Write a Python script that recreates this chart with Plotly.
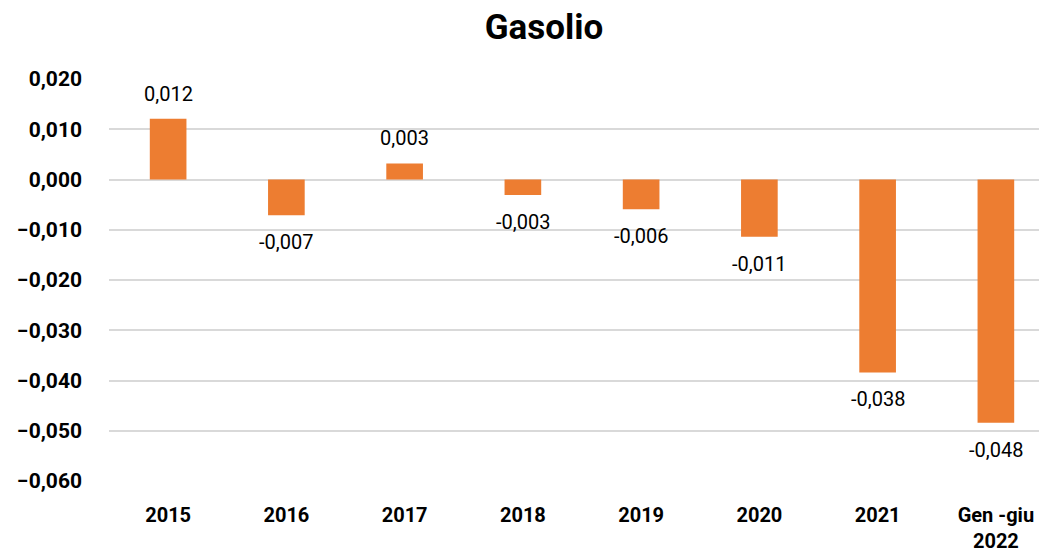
import plotly.graph_objects as go

# Gasolio - variazione annua
categories = ["2015", "2016", "2017", "2018", "2019", "2020", "2021", "Gen -giu<br>2022"]
values = [0.0121, -0.0071, 0.0032, -0.0031, -0.0059, -0.0114, -0.0384, -0.0484]
labels = ["0,012", "-0,007", "0,003", "-0,003", "-0,006", "-0,011", "-0,038", "-0,048"]

FONT = "Roboto"
ORANGE = "#ED7D31"

fig = go.Figure()
fig.add_trace(go.Bar(x=categories, y=values, marker_color=ORANGE,
                     marker_line_width=0, hoverinfo="skip"))

# data labels above positive bars, below negative ones
for i, (v, t) in enumerate(zip(values, labels)):
    fig.add_annotation(x=i, y=v, text=t, showarrow=False,
                       yshift=25 if v > 0 else -27,
                       font=dict(family=FONT, size=20, color="#000000"))

fig.update_layout(
    width=1047, height=551,
    title=dict(text="<b>Gasolio</b>", x=0.512, xanchor="center", y=0.966, yanchor="middle",
               font=dict(family=FONT, size=35, color="#000000")),
    plot_bgcolor="white", paper_bgcolor="white",
    margin=dict(l=101, r=0, t=71, b=78),
    bargap=0.69,
    showlegend=False,
    separators=",.",
    xaxis=dict(type="category", range=[-0.5, 7.5], showgrid=False, showline=False, ticks="",
               ticklabelstandoff=20,
               tickfont=dict(family=FONT, size=20, color="#000000", weight="bold")),
    yaxis=dict(range=[-0.06, 0.02], dtick=0.01, tickformat=".3f",
               gridcolor="#D9D9D9", gridwidth=2, zeroline=False, showline=False,
               ticklabelstandoff=26,
               tickfont=dict(family=FONT, size=21, color="#000000", weight="bold")),
)

fig.write_html("out.html")
